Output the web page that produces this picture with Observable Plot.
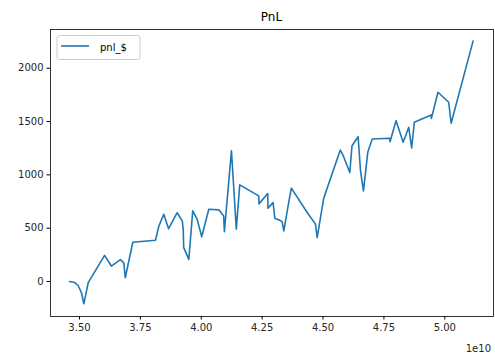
<!DOCTYPE html>
<html>
<head>
<meta charset="utf-8">
<script src="https://cdn.jsdelivr.net/npm/d3@7"></script>
<script src="https://cdn.jsdelivr.net/npm/@observablehq/plot@0.6"></script>
<style>
  html, body { margin: 0; padding: 0; background: #fff; }
  #chart { position: relative; width: 495px; height: 355px; }
</style>
</head>
<body>
<div id="chart"></div>
<script>
const title = "PnL";
const seriesName = "pnl_$";
// x values in units of 1e10
const xVals = [3.459, 3.481, 3.495, 3.508, 3.518, 3.536, 3.544, 3.603, 3.631, 3.668, 3.682, 3.688, 3.719,
  3.812, 3.826, 3.846, 3.866, 3.901, 3.922, 3.926, 3.928, 3.949, 3.965, 3.983, 4.002, 4.031, 4.072, 4.092,
  4.095, 4.124, 4.144, 4.158, 4.236, 4.237, 4.273, 4.274, 4.295, 4.302, 4.322, 4.332, 4.339, 4.359, 4.370,
  4.435, 4.469, 4.476, 4.503, 4.571, 4.583, 4.610, 4.619, 4.644, 4.654, 4.666, 4.684, 4.702, 4.774, 4.775,
  4.800, 4.829, 4.852, 4.864, 4.875, 4.944, 4.945, 4.972, 5.016, 5.026, 5.116];
const pnl = [0, -10, -40, -105, -208, -10, 20, 245, 145, 205, 175, 35, 368,
  387, 520, 630, 495, 645, 568, 490, 318, 208, 662, 585, 420, 678, 672, 615,
  468, 1226, 490, 906, 803, 728, 825, 688, 740, 594, 575, 562, 475, 740, 876,
  647, 538, 412, 782, 1233, 1180, 1022, 1273, 1358, 1038, 850, 1215, 1336, 1343, 1310,
  1508, 1305, 1446, 1252, 1493, 1562, 1530, 1775, 1681, 1484, 2254];
const xTicks = [3.5, 3.75, 4.0, 4.25, 4.5, 4.75, 5.0];
const yTicks = [0, 500, 1000, 1500, 2000];
const offsetLabel = "1e10";

const data = xVals.map((x, i) => ({x: x * 1e10, y: pnl[i]}));
const font = "DejaVu Sans, sans-serif";
const xFmt = d => (d / 1e10).toFixed(2);
const yFmt = d => String(d);

const plot = Plot.plot({
  width: 495,
  height: 355,
  marginLeft: 50,
  marginRight: 2,
  marginTop: 29,
  marginBottom: 39,
  style: {fontFamily: font, fontSize: "10px", background: "#fff", color: "#000"},
  x: {domain: [3.381e10, 5.2e10], label: null},
  y: {domain: [-328, 2363], label: null},
  marks: [
    Plot.line(data, {x: "x", y: "y", stroke: "#1f77b4", strokeWidth: 1.6}),
    Plot.frame({stroke: "#000", strokeWidth: 0.8}),
    Plot.axisX({ticks: xTicks.map(t => t * 1e10), tickFormat: xFmt, tickSize: 3.5, tickPadding: 3.5, label: null, fill: "#262626"}),
    Plot.axisY({ticks: yTicks, tickFormat: yFmt, tickSize: 3.5, tickPadding: 3.5, label: null, fill: "#262626"})
  ]
});
document.getElementById("chart").appendChild(plot);

const svg = d3.select(plot);
svg.append("text").attr("x", 271.5).attr("y", 21).attr("text-anchor", "middle")
  .attr("font-family", font).attr("font-size", 12).attr("fill", "#000").text(title);
svg.append("text").attr("x", 491).attr("y", 352).attr("text-anchor", "end")
  .attr("font-family", font).attr("font-size", 10).attr("fill", "#262626").text(offsetLabel);
const lg = svg.append("g");
lg.append("rect").attr("x", 57).attr("y", 35.5).attr("width", 83).attr("height", 24).attr("rx", 2.5)
  .attr("fill", "#fff").attr("fill-opacity", 0.8).attr("stroke", "#ccc").attr("stroke-width", 1);
lg.append("line").attr("x1", 61).attr("x2", 89).attr("y1", 46).attr("y2", 46)
  .attr("stroke", "#1f77b4").attr("stroke-width", 1.6);
lg.append("text").attr("x", 100).attr("y", 50.5).attr("text-anchor", "start").attr("font-family", font).attr("font-size", 10)
  .attr("fill", "#000").text(seriesName);
</script>
</body>
</html>
